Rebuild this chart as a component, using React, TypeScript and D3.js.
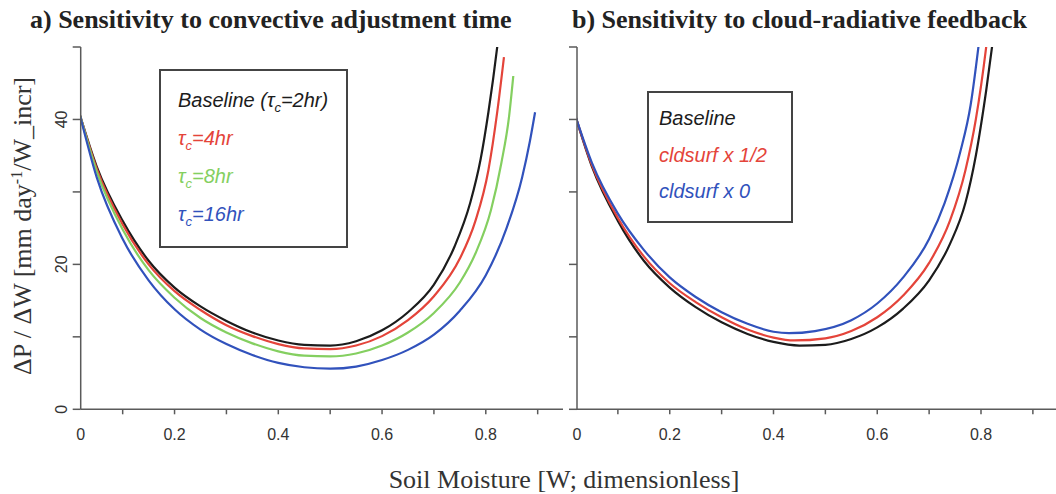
import React from "react";
import * as d3 from "d3";

// ---- data (W, ΔP/ΔW) ----
const aBaseline: [number, number][] = [[0.018,40.5],[0.05,33.5],[0.1,26],[0.15,20.5],[0.2,16.8],[0.25,14.2],[0.3,12.2],[0.35,10.6],[0.4,9.5],[0.45,8.9],[0.5,8.8],[0.55,9.4],[0.6,10.9],[0.65,13.4],[0.7,17.2],[0.74,22.5],[0.77,28.5],[0.79,34.5],[0.805,41],[0.822,50],[0.83,55]];
const aTau4: [number, number][] = [[0.018,40.5],[0.05,33.2],[0.1,25.5],[0.15,20],[0.2,16.3],[0.25,13.7],[0.3,11.6],[0.35,10.1],[0.4,9],[0.45,8.4],[0.5,8.3],[0.55,8.8],[0.6,10.1],[0.65,12.3],[0.7,15.6],[0.75,20.8],[0.78,26],[0.805,33],[0.822,41],[0.835,48.6]];
const aTau8: [number, number][] = [[0.018,40.5],[0.05,32.8],[0.1,24.8],[0.15,19.2],[0.2,15.4],[0.25,12.6],[0.3,10.6],[0.35,9.1],[0.4,8],[0.45,7.4],[0.5,7.3],[0.55,7.7],[0.6,8.8],[0.65,10.6],[0.7,13.3],[0.75,17.5],[0.78,21.5],[0.81,27.5],[0.83,34],[0.845,40.5],[0.853,46]];
const aTau16: [number, number][] = [[0.018,40.5],[0.05,32],[0.1,23.5],[0.15,17.8],[0.2,13.8],[0.25,11],[0.3,9],[0.35,7.5],[0.4,6.4],[0.45,5.8],[0.5,5.6],[0.55,5.9],[0.6,6.8],[0.65,8.2],[0.7,10.3],[0.75,13.6],[0.8,18.5],[0.84,25],[0.87,32],[0.885,37],[0.895,41]];

const bBaseline: [number, number][] = [[0.018,40.5],[0.05,33.5],[0.1,26],[0.15,20.5],[0.2,16.8],[0.25,14.1],[0.3,12],[0.35,10.4],[0.4,9.3],[0.45,8.8],[0.5,8.9],[0.55,9.7],[0.6,11.3],[0.65,13.9],[0.7,17.8],[0.74,22.8],[0.77,28.5],[0.79,35],[0.81,44],[0.825,52]];
const bHalf: [number, number][] = [[0.018,40.5],[0.05,33.7],[0.1,26.4],[0.15,21.1],[0.2,17.4],[0.25,14.8],[0.3,12.7],[0.35,11],[0.4,9.9],[0.44,9.5],[0.5,9.8],[0.55,10.8],[0.6,12.7],[0.65,15.7],[0.7,20.2],[0.74,26],[0.77,33],[0.79,40],[0.81,50],[0.815,53]];
const bZero: [number, number][] = [[0.018,40.5],[0.05,34],[0.1,27],[0.15,22],[0.2,18.2],[0.25,15.5],[0.3,13.4],[0.35,11.8],[0.4,10.7],[0.43,10.5],[0.48,10.8],[0.55,12.3],[0.6,14.6],[0.65,18.2],[0.7,23.5],[0.73,28.5],[0.76,35.5],[0.78,42],[0.795,50],[0.8,53]];

const xTicks = [0.1, 0.2, 0.3, 0.4, 0.5, 0.6, 0.7, 0.8, 0.9];
const xLabels = [0.2, 0.4, 0.6, 0.8];
const yTicks = [0, 10, 20, 30, 40, 50];
const yLabels = [0, 20, 40];

const BLACK = "#1c1c1c";
const RED = "#e4443a";
const GREEN = "#84cf60";
const BLUE = "#3152bc";
const AXIS = "#5a5a5a";

const panelA = { x0: 70.8, axisX: 80.7, lineEnd: 563, series: [
  { d: aBaseline, c: BLACK }, { d: aTau4, c: RED }, { d: aTau8, c: GREEN }, { d: aTau16, c: BLUE } ] };
const panelB = { x0: 566, axisX: 577, lineEnd: 1056, series: [
  { d: bBaseline, c: BLACK }, { d: bHalf, c: RED }, { d: bZero, c: BLUE } ] };

const PX_PER_UNIT = 518.75;
const y = d3.scaleLinear().domain([0, 50]).range([409.3, 47]);

function Panel({ p, id, showYLabels }: { p: typeof panelA; id: string; showYLabels: boolean }) {
  const x = d3.scaleLinear().domain([0, 1]).range([p.x0, p.x0 + PX_PER_UNIT]);
  const line = d3.line<[number, number]>().x(d => x(d[0])).y(d => y(d[1])).curve(d3.curveMonotoneX);
  const y0 = y(0);
  return (
    <g>
      <defs>
        <clipPath id={id}>
          <rect x={p.axisX} y={y(50)} width={p.lineEnd - p.axisX} height={y0 - y(50)} />
        </clipPath>
      </defs>
      <g clipPath={`url(#${id})`}>
        {p.series.map((s, i) => (
          <path key={i} d={line(s.d) || ""} fill="none" stroke={s.c} strokeWidth={2.2} />
        ))}
      </g>
      <line x1={p.axisX} x2={p.lineEnd} y1={y0} y2={y0} stroke={AXIS} strokeWidth={1.5} />
      {xTicks.map(t => (
        <line key={t} x1={x(t)} x2={x(t)} y1={y0} y2={y0 + 5} stroke={AXIS} strokeWidth={1.5} />
      ))}
      <text x={p.axisX} y={440} textAnchor="middle" fontFamily="Liberation Sans, Arial, sans-serif" fontSize={16} fill="#333">0</text>
      {xLabels.map(t => (
        <text key={t} x={x(t)} y={440} textAnchor="middle" fontFamily="Liberation Sans, Arial, sans-serif" fontSize={16} fill="#333">{t}</text>
      ))}
      <line x1={p.axisX} x2={p.axisX} y1={y0} y2={y(50)} stroke={AXIS} strokeWidth={1.5} />
      {yTicks.map(t => (
        <line key={t} x1={p.axisX - 8} x2={p.axisX} y1={y(t)} y2={y(t)} stroke={AXIS} strokeWidth={1.5} />
      ))}
      {showYLabels && yLabels.map(t => (
        <text key={t} transform={`translate(${p.axisX - 14},${y(t)}) rotate(-90)`} textAnchor="middle"
          fontFamily="Liberation Sans, Arial, sans-serif" fontSize={16} fill="#333">{t}</text>
      ))}
    </g>
  );
}

const legendFont = "Liberation Sans, Arial, sans-serif";

export default function App() {
  return (
    <svg width={1056} height={494} style={{ position: "absolute", left: 0, top: 0, background: "#fff" }}>
      <rect width={1056} height={494} fill="#fff" />
      <Panel p={panelA} id="clipA" showYLabels={true} />
      <Panel p={panelB} id="clipB" showYLabels={false} />

      <text x={30} y={28} fontFamily="Liberation Serif, Times New Roman, serif" fontWeight="bold" fontSize={26} fill="#222">a) Sensitivity to convective adjustment time</text>
      <text x={572} y={28} fontFamily="Liberation Serif, Times New Roman, serif" fontWeight="bold" fontSize={26} fill="#222">b) Sensitivity to cloud-radiative feedback</text>

      <text x={564} y={488} textAnchor="middle" fontFamily="Liberation Serif, Times New Roman, serif" fontSize={26} fill="#333">Soil Moisture [W; dimensionless]</text>
      <text transform="translate(31,226) rotate(-90)" textAnchor="middle" fontFamily="Liberation Serif, Times New Roman, serif" fontSize={26} fill="#333">
        ΔP / ΔW [mm day<tspan dy={-9} fontSize={16}>-1</tspan><tspan dy={9}>/W_incr]</tspan>
      </text>

      <rect x={160} y={70} width={187} height={177} fill="#fff" stroke="#444" strokeWidth={2} />
      <g fontFamily={legendFont} fontStyle="italic" fontSize={20}>
        <text x={178} y={107} fill={BLACK}>Baseline (τ<tspan dy={5} fontSize={13}>c</tspan><tspan dy={-5}>=2hr)</tspan></text>
        <text x={178} y={145} fill={RED}>τ<tspan dy={5} fontSize={13}>c</tspan><tspan dy={-5}>=4hr</tspan></text>
        <text x={178} y={183} fill={GREEN}>τ<tspan dy={5} fontSize={13}>c</tspan><tspan dy={-5}>=8hr</tspan></text>
        <text x={178} y={221} fill={BLUE}>τ<tspan dy={5} fontSize={13}>c</tspan><tspan dy={-5}>=16hr</tspan></text>
      </g>

      <rect x={648} y={92} width={144} height={130} fill="#fff" stroke="#444" strokeWidth={2} />
      <g fontFamily={legendFont} fontStyle="italic" fontSize={20}>
        <text x={659} y={125} fill={BLACK}>Baseline</text>
        <text x={659} y={162} fill={RED}>cldsurf x 1/2</text>
        <text x={659} y={198} fill={BLUE}>cldsurf x 0</text>
      </g>
    </svg>
  );
}
